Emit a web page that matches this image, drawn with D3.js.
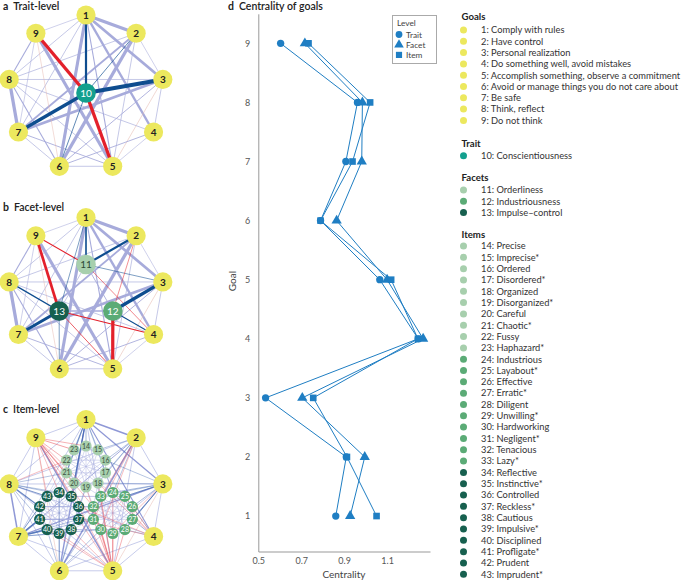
<!DOCTYPE html>
<html><head><meta charset="utf-8">
<script src="https://cdn.jsdelivr.net/npm/d3@7"></script>
<style>
body{margin:0;background:#fff}
svg{display:block}
text{font-family:Lato,"Open Sans",sans-serif}
</style>
</head><body>
<svg id="chart" width="685" height="580"></svg>
<script>
// ---------------- DATA ----------------
const goalIds = [1,2,3,4,5,6,7,8,9];
const goalNames = ["Comply with rules","Have control","Personal realization","Do something well, avoid mistakes","Accomplish something, observe a commitment","Avoid or manage things you do not care about","Be safe","Think, reflect","Do not think"];
const traitNames = ["Conscientiousness"];
const facetNames = ["Orderliness","Industriousness","Impulse\u2013control"];
const itemNames = ["Precise","Imprecise*","Ordered","Disordered*","Organized","Disorganized*","Careful","Chaotic*","Fussy","Haphazard*",
 "Industrious","Layabout*","Effective","Erratic*","Diligent","Unwilling*","Hardworking","Negligent*","Tenacious","Lazy*",
 "Reflective","Instinctive*","Controlled","Reckless*","Cautious","Impulsive*","Disciplined","Profligate*","Prudent","Imprudent*"];

// centrality (panel d)
const traitCentrality = [0.861,0.910,0.534,1.245,1.066,0.790,0.908,0.962,0.604];
const facetCentrality = [0.928,0.996,0.705,1.268,1.100,0.865,0.982,0.985,0.717];
const itemCentrality  = [1.051,0.913,0.756,1.244,1.119,0.790,0.939,1.021,0.734];
const xTicks = [0.5,0.7,0.9,1.1];
const levelNames = ["Trait","Facet","Item"];

// goal-goal partial correlations (shared by networks)
const goalEdges = [[1,2,0.30],[1,3,0.25],[1,4,0.22],[1,5,0.10],[1,6,0.28],[1,7,0.06],[1,8,0.06],[1,9,0.05],
 [2,3,0.05],[2,5,0.06],[2,6,0.30],[2,7,0.16],[2,8,0.06],[3,4,0.06],[3,5,-0.05],[3,6,0.08],[3,7,0.25],[3,8,0.06],
 [4,5,0.05],[4,6,0.08],[4,8,0.06],[5,6,0.06],[5,7,0.08],[5,8,0.06],[5,9,0.28],[6,7,0.06],[6,8,0.10],[6,9,-0.04],
 [7,8,0.30],[7,9,0.05],[8,9,0.10]];
// trait-goal (panel a)
const traitEdges = [[10,1,0.20],[10,2,0.06],[10,3,0.36],[10,5,-0.30],[10,6,0.06],[10,7,0.30],[10,9,-0.30]];
// facet-goal (panel b)
const facetEdges = [[11,1,0.18],[11,2,0.24],[11,3,0.06],[11,4,-0.06],[11,9,-0.12],
 [12,2,-0.05],[12,3,0.36],[12,4,0.12],[12,5,-0.36],
 [13,1,0.06],[13,4,-0.14],[13,5,-0.08],[13,6,0.06],[13,7,0.34],[13,8,0.16],[13,9,-0.30]];
const facetFacetEdges = [[11,12,0.08],[11,13,0.06],[12,13,0.12]];
// item-goal (panel c)
const itemGoalEdges = [
 [1,14,0.10],[1,23,0.12],[1,20,0.18],[1,15,0.06],[1,34,0.08],[1,35,0.05],[1,24,0.06],[1,21,0.05],
 [2,15,0.08],[2,16,0.08],[2,17,0.06],[2,24,0.05],[2,33,-0.08],[2,30,-0.06],[2,18,0.05],[2,31,-0.05],
 [3,24,0.10],[3,25,0.12],[3,26,0.10],[3,27,0.14],[3,33,0.08],[3,32,0.06],[3,18,0.06],[3,16,0.05],[3,28,0.16],[3,29,-0.05],
 [4,27,0.10],[4,28,0.08],[4,26,0.06],[4,25,-0.06],[4,24,-0.05],[4,37,-0.06],[4,36,-0.05],[4,18,-0.05],
 [5,29,-0.12],[5,30,-0.12],[5,28,-0.10],[5,31,-0.10],[5,32,-0.08],[5,33,-0.08],[5,38,-0.08],[5,39,-0.08],[5,37,-0.06],
 [5,19,-0.06],[5,18,-0.05],[5,24,-0.06],[5,40,-0.05],[5,36,-0.06],
 [6,39,0.10],[6,38,0.08],[6,40,0.06],[6,30,0.06],[6,31,0.08],[6,19,0.05],[6,34,0.06],
 [7,41,0.30],[7,40,0.26],[7,42,0.15],[7,39,0.08],[7,37,0.06],[7,31,0.06],[7,30,0.05],
 [8,42,0.22],[8,43,0.15],[8,41,0.08],[8,34,0.06],[8,22,-0.06],[8,21,0.05],[8,35,0.05],
 [9,23,-0.12],[9,22,-0.10],[9,14,-0.10],[9,21,-0.08],[9,20,-0.08],[9,43,-0.06],[9,35,-0.08],[9,34,-0.06],[9,36,-0.06],
 [9,19,-0.05],[9,32,-0.05],[9,31,-0.05]];
// item-item (panel c)
const itemItemEdges = [
 [14,15,0.08],[14,16,0.05],[14,18,0.06],[14,20,0.05],[14,22,0.06],[15,16,0.06],[15,17,0.08],[15,19,0.05],[15,21,0.06],[15,23,0.05],
 [16,17,0.07],[16,18,0.06],[16,20,0.05],[16,22,0.06],[17,18,0.05],[17,19,0.08],[17,21,0.06],[17,23,0.05],[18,19,0.06],[18,20,0.05],
 [18,22,0.06],[19,20,0.05],[19,21,0.08],[19,23,0.05],[20,21,0.06],[20,22,0.05],[21,22,0.06],[21,23,0.08],[22,23,0.05],
 [14,19,0.06],[15,20,0.05],[16,21,0.06],[17,22,0.05],[18,23,0.06],
 [24,25,0.08],[24,26,0.05],[24,28,0.06],[24,30,0.05],[24,32,0.06],[25,26,0.06],[25,27,0.08],[25,29,0.05],[25,31,0.06],[25,33,0.05],
 [26,27,0.07],[26,28,0.06],[26,30,0.05],[26,32,0.06],[27,28,0.05],[27,29,0.08],[27,31,0.06],[27,33,0.05],[28,29,0.06],[28,30,0.05],
 [28,32,0.06],[29,30,0.05],[29,31,0.08],[29,33,0.05],[30,31,0.06],[30,32,0.05],[31,32,0.06],[31,33,0.08],[32,33,0.05],
 [24,29,0.06],[25,30,0.05],[26,31,0.06],[27,32,0.05],[28,33,0.06],
 [34,35,0.08],[34,36,0.05],[34,38,0.06],[34,40,0.05],[34,42,0.06],[35,36,0.06],[35,37,0.08],[35,39,0.05],[35,41,0.06],[35,43,0.05],
 [36,37,0.07],[36,38,0.06],[36,40,0.05],[36,42,0.12],[37,38,0.05],[37,39,0.08],[37,41,0.15],[37,43,0.05],[38,39,0.06],[38,40,0.05],
 [38,42,0.06],[39,40,0.05],[39,41,0.08],[39,43,0.05],[40,41,0.10],[40,42,0.05],[41,42,0.10],[41,43,0.08],[42,43,0.08],
 [34,39,0.08],[35,40,0.05],[36,41,0.06],[37,42,0.05],[38,43,0.06],
 [20,35,0.06],[20,36,0.05],[19,36,0.06],[19,32,0.05],[18,33,0.06],[18,32,0.05],[22,43,0.05],[21,43,0.05],[21,34,0.06],
 [31,37,0.08],[32,36,0.08],[33,35,0.06],[31,38,0.05],[30,38,0.06],[32,37,0.05],[24,17,0.06],[33,19,0.05],[34,20,0.06],
 [41,31,0.10],[42,32,0.08],[40,30,0.06],[35,33,0.05],[36,32,0.06],[24,18,0.05],[25,17,0.05]];

// ---------------- STYLE ----------------
const C = {
  goal:"#ece85e", trait:"#13a08e", facet:["#a7cfad","#5bab76","#17604f"],
  lav:"#a7abdb", pink:"#e6b9b1", blue:"#0e4d8f", red:"#e3202b", dPlot:"#1f7ec3"
};
const svg = d3.select("#chart");

// ---------------- NETWORKS ----------------
function layout(cx, cy){
  const R = 78, pos = {};
  goalIds.forEach((g,i)=>{
    const a = (-90 + i*40)*Math.PI/180;
    pos[g] = {x: cx + R*Math.cos(a), y: cy + R*Math.sin(a)};
  });
  const fa = [-90,30,150];
  fa.forEach((d,k)=>{
    const a = d*Math.PI/180;
    pos[11+k] = {x: cx + 31*Math.cos(a), y: cy + 31*Math.sin(a)};
  });
  pos[10] = {x: cx, y: cy};
  return pos;
}
function itemPos(pos){
  const p = {};
  for(let k=0;k<3;k++){
    const c = pos[11+k];
    for(let j=0;j<10;j++){
      const a = (-90 + j*36)*Math.PI/180;
      p[14 + k*10 + j] = {x: c.x + 20.5*Math.cos(a), y: c.y + 20.5*Math.sin(a)};
    }
  }
  return p;
}
function drawEdges(g, pos, edges, opt){
  g.append("g").selectAll("line").data(edges).join("line")
    .attr("x1",d=>pos[d[0]].x).attr("y1",d=>pos[d[0]].y)
    .attr("x2",d=>pos[d[1]].x).attr("y2",d=>pos[d[1]].y)
    .attr("stroke",d=>d[2]>0?opt.pos:opt.neg)
    .attr("stroke-opacity",opt.op||1)
    .attr("stroke-width",d=>Math.max(0.5,Math.abs(d[2])*opt.k));
}
function drawNodes(g, pos, ids, r, fill, txtCol, fs, weight){
  const n = g.append("g").selectAll("g").data(ids).join("g")
    .attr("transform",d=>`translate(${pos[d].x},${pos[d].y})`);
  n.append("circle").attr("r",r).attr("fill",fill);
  n.append("text").text(d=>d).attr("text-anchor","middle").attr("dy","0.36em")
    .attr("font-size",fs).attr("font-weight",weight).attr("fill",txtCol);
}
function panelLabel(x,y,letter,title){
  const t = svg.append("text").attr("x",x).attr("y",y).attr("font-size",10.5).attr("fill","#222");
  t.append("tspan").text(letter).attr("font-weight","bold");
  t.append("tspan").text(title).attr("dx",5).attr("font-weight",600);
}

// panel a
{
  const g = svg.append("g"), pos = layout(86,93);
  drawEdges(g,pos,goalEdges,{pos:C.lav,neg:C.pink,k:11});
  drawEdges(g,pos,traitEdges,{pos:C.blue,neg:C.red,k:11});
  drawNodes(g,pos,goalIds,9.6,C.goal,"#222",10,"bold");
  drawNodes(g,pos,[10],9.8,C.trait,"#fff",10,"normal");
  panelLabel(3,10,"a","Trait-level");
}
// panel b
{
  const g = svg.append("g"), pos = layout(86,295.5);
  drawEdges(g,pos,goalEdges,{pos:C.lav,neg:C.pink,k:11});
  drawEdges(g,pos,facetFacetEdges,{pos:C.lav,neg:C.pink,k:11});
  drawEdges(g,pos,facetEdges,{pos:C.blue,neg:C.red,k:9});
  drawNodes(g,pos,goalIds,9.6,C.goal,"#222",10,"bold");
  drawNodes(g,pos,[11],9.8,C.facet[0],"#2c4a38",10,"normal");
  drawNodes(g,pos,[12],9.8,C.facet[1],"#fff",10,"normal");
  drawNodes(g,pos,[13],9.8,C.facet[2],"#fff",10,"normal");
  panelLabel(3,211,"b","Facet-level");
}
// panel c
{
  const g = svg.append("g"), pos = layout(86,497.5);
  Object.assign(pos, itemPos(pos));
  drawEdges(g,pos,goalEdges,{pos:"#8f98d6",neg:C.pink,k:5});
  drawEdges(g,pos,itemItemEdges,{pos:"#aab0e0",neg:C.pink,k:8,op:0.9});
  drawEdges(g,pos,itemGoalEdges,{pos:"#3b62b0",neg:"#e8505a",k:6,op:0.75});
  drawNodes(g,pos,goalIds,9.6,C.goal,"#222",10,"bold");
  drawNodes(g,pos,d3.range(14,24),5.6,C.facet[0],"#3a4f42",7,"normal");
  drawNodes(g,pos,d3.range(24,34),5.6,C.facet[1],"#fff",7,"normal");
  drawNodes(g,pos,d3.range(34,44),5.6,C.facet[2],"#fff",7,"normal");
  panelLabel(3,413,"c","Item-level");
}

// ---------------- PANEL D ----------------
{
  const x = d3.scaleLinear().domain([0.5,1.3]).range([258.3,430]);
  const y = d3.scaleLinear().domain([0.4,9.5]).range([551.5,13.8]);
  const g = svg.append("g");
  const ay = g.append("g").attr("transform","translate(258.3,0)")
    .call(d3.axisLeft(y).tickValues(goalIds).tickSize(0).tickPadding(8).tickFormat(d3.format("d")));
  const ax = g.append("g").attr("transform","translate(0,551.5)")
    .call(d3.axisBottom(x).tickValues(xTicks).tickSize(0).tickPadding(6.5).tickFormat(d3.format(".1f")));
  [ay,ax].forEach(a=>{
    a.select(".domain").attr("stroke","#999");
    a.selectAll("text").attr("font-size",9).attr("fill","#555").attr("font-family","Lato,sans-serif");
  });
  g.append("text").attr("transform","translate(236,281) rotate(-90)").attr("text-anchor","middle")
    .attr("font-size",10).attr("fill","#444").text("Goal");
  g.append("text").attr("x",344).attr("y",578).attr("text-anchor","middle")
    .attr("font-size",10).attr("fill","#444").text("Centrality");

  const series = [traitCentrality, facetCentrality, itemCentrality];
  const syms = [d3.symbolCircle, d3.symbolTriangle, d3.symbolSquare];
  const sizes = [42, 46, 44];
  const line = d3.line().x(d=>x(d.v)).y(d=>y(d.g));
  series.forEach((s,k)=>{
    const data = s.map((v,i)=>({g:goalIds[i], v}));
    g.append("path").datum(data).attr("d",line).attr("fill","none").attr("stroke",C.dPlot).attr("stroke-width",1);
  });
  series.forEach((s,k)=>{
    const data = s.map((v,i)=>({g:goalIds[i], v}));
    g.append("g").selectAll("path").data(data).join("path")
      .attr("transform",d=>`translate(${x(d.v)},${y(d.g)})`)
      .attr("d",d3.symbol().type(syms[k]).size(sizes[k])).attr("fill",C.dPlot);
  });
  // legend
  const lg = g.append("g");
  lg.append("rect").attr("x",392.5).attr("y",15.5).attr("width",44).attr("height",48)
    .attr("fill","#fff").attr("stroke","#aaa");
  lg.append("text").attr("x",397).attr("y",25.5).attr("font-size",8.3).attr("fill","#444").text("Level");
  levelNames.forEach((n,k)=>{
    const yy = 34.5 + k*10.2;
    lg.append("path").attr("transform",`translate(399,${yy})`)
      .attr("d",d3.symbol().type(syms[k]).size(sizes[k]-6)).attr("fill",C.dPlot);
    lg.append("text").attr("x",406).attr("y",yy+3).attr("font-size",8.3).attr("fill","#444").text(n);
  });
  const t = svg.append("text").attr("x",228).attr("y",10).attr("font-size",10.5).attr("fill","#222");
  t.append("tspan").text("d").attr("font-weight","bold");
  t.append("tspan").text("Centrality of goals").attr("dx",5).attr("font-weight",600);
}

// ---------------- RIGHT LEGEND ----------------
{
  const g = svg.append("g");
  const step = 11.3;
  function head(yc, txt){
    g.append("text").attr("x",461.5).attr("y",yc+3.4).attr("font-size",9.6).attr("font-weight","bold").attr("fill","#222").text(txt);
  }
  function entry(yc, col, txt){
    g.append("circle").attr("cx",463.5).attr("cy",yc).attr("r",3.5).attr("fill",col);
    g.append("text").attr("x",481).attr("y",yc+3.3).attr("font-size",9.3).attr("fill","#333").text(txt);
  }
  head(17,"Goals");
  goalNames.forEach((n,i)=>entry(30+i*step, C.goal, `${goalIds[i]}: ${n}`));
  head(143.3,"Trait");
  entry(155.7, C.trait, `10: ${traitNames[0]}`);
  head(177.7,"Facets");
  facetNames.forEach((n,i)=>entry(190+i*step, C.facet[i], `${11+i}: ${n}`));
  head(234.7,"Items");
  itemNames.forEach((n,i)=>entry(246+i*11.32, C.facet[Math.floor(i/10)], `${14+i}: ${n}`));
}
</script>
</body></html>
